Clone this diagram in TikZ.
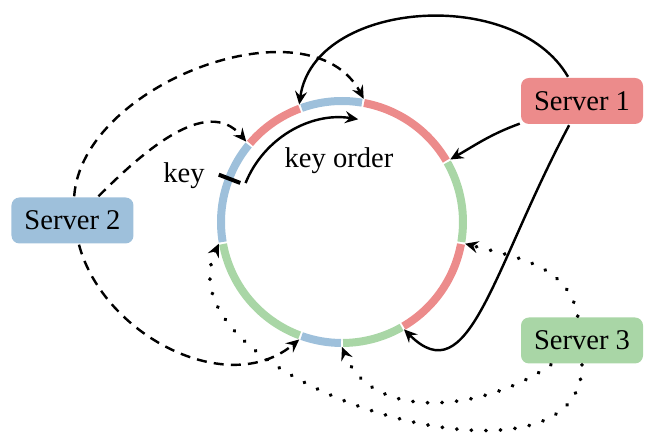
\documentclass[tikz,border=0pt]{standalone}
\usepackage{fontspec}
\setmainfont{Liberation Serif}
\usetikzlibrary{arrows.meta}

\definecolor{ringred}{RGB}{236,139,139}
\definecolor{ringblue}{RGB}{158,192,219}
\definecolor{ringgreen}{RGB}{169,214,166}

\begin{document}
\begin{tikzpicture}[
  x=0.35pt, y=0.35pt,
  line width=0.85pt,
  >={Stealth[length=4.6pt,width=4.2pt,inset=1.6pt]},
  server/.style={
    fill=#1,
    rounded corners=2.8pt,
    minimum width=42.7pt,
    minimum height=16.1pt,
    font=\fontsize{10}{12}\selectfont
    },
  ringpart/.style={draw=#1, line width=2.8pt},
  dashedline/.style={dash pattern=on 3.5pt off 2.5pt},
  dottedline/.style={line cap=round, dash pattern=on 0.1pt off 5pt, line width=1.35pt}
]

\useasboundingbox (-342,-221) rectangle (326,222);

% Draw ring
\foreach \a/\b/\c in {80/110/ringblue, 110/140/ringred, 140/190/ringblue,
  190/250/ringgreen, 250/270/ringblue, 270/300/ringgreen,
  300/350/ringred, 350/390/ringgreen, 390/440/ringred}
  \draw[ringpart=\c] ({\a+0.5}:121) arc[start angle=\a+0.5, end angle=\b-0.5, radius=121];

\coordinate (r30) at (30:125);
\coordinate (r80) at (80:125);
\coordinate (r110) at (110:125);
\coordinate (r140) at (140:125);
\coordinate (r190) at (190:125);
\coordinate (r250) at (250:125);
\coordinate (r270) at (270:125);
\coordinate (r300) at (300:124);
\coordinate (r350) at (350:125);

% key and key order
\draw[line width=1.4pt] (159:109) -- (159:132);
\node[anchor=base, font=\fontsize{10}{12}\selectfont] (key) at (-158,39) {key};
\node[anchor=base, font=\fontsize{10}{12}\selectfont] (order) at (-3,54) {key order};
\draw[->] (158:104) arc[start angle=158, end angle=81, radius=104];

% Servers
\node[server=ringred] (s1) at (240,121) {Server 1};
\node[server=ringblue] (s2) at (-269.5,1.5) {Server 2};
\node[server=ringgreen] (s3) at (240,-118.5) {Server 3};

\draw[->] (s1) to[out=120, in=82] (r110);
\draw[->] (s1) to[out=200, in=30] (r30);
\draw[->] (s1) to[out=-118, in=-45, out looseness=1.6, in looseness=0.9] (r300);

\draw[->, dashedline] (s2) to[out=86, in=118, looseness=0.95] (r80);
\draw[->, dashedline] (s2.43) to[out=45, in=130] (r140);
\draw[->, dashedline] (s2) to[out=-75, in=-140] (r250);

\draw[->, dottedline] (s3) to[out=100, in=-15] (r350);
\draw[->, dottedline] (s3.218) to[out=-145, in=-68] (r270);
\draw[->, dottedline] (s3) to[out=-90, in=-115] (r190);

\end{tikzpicture}
\end{document}
